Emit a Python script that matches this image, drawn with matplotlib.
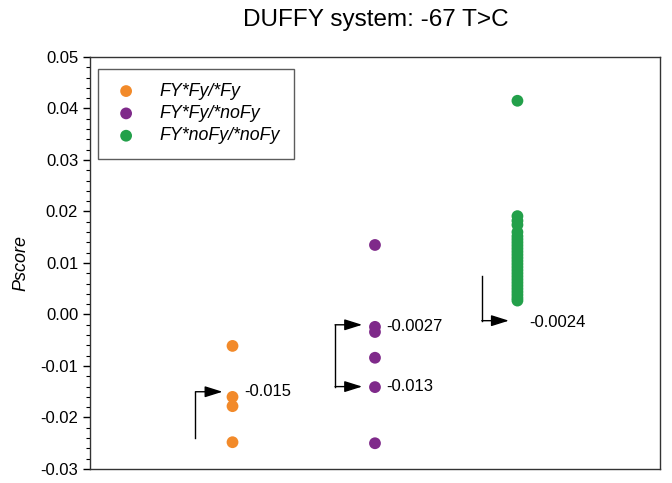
import matplotlib
matplotlib.use("Agg")
import matplotlib.pyplot as plt
from matplotlib.ticker import MultipleLocator

plt.rcParams['font.family'] = ['Liberation Sans', 'DejaVu Sans']

groups = ["FY*Fy/*Fy", "FY*Fy/*noFy", "FY*noFy/*noFy"]
colors = ["#f28a2a", "#7f2a8a", "#23a04a"]
x_pos = [1, 2, 3]
orange_vals = [-0.0061, -0.0160, -0.0178, -0.0248]
purple_vals = [0.0135, -0.0024, -0.0034, -0.0084, -0.0141, -0.0250]
green_vals = [0.0415, 0.0191, 0.0182, 0.0174, 0.0160, 0.0152, 0.0146, 0.0140, 0.0134,
              0.0128, 0.0122, 0.0116, 0.0110, 0.0104, 0.0098, 0.0092, 0.0086, 0.0080,
              0.0074, 0.0068, 0.0062, 0.0056, 0.0050, 0.0044, 0.0038, 0.0032, 0.0027]
series = [orange_vals, purple_vals, green_vals]
ann_labels = ["-0.015", "-0.0027", "-0.013", "-0.0024"]
ann_values = [-0.0150, -0.0020, -0.0140, -0.0012]

fig = plt.figure(figsize=(6.72, 4.83), dpi=100)
ax = fig.add_axes([0.134, 0.029, 0.848, 0.853])

for xp, vals, c, g in zip(x_pos, series, colors, groups):
    ax.scatter([xp] * len(vals), vals, s=72, color=c, edgecolors="none", label=g, zorder=3)

ax.set_xlim(0, 4)
ax.set_ylim(-0.03, 0.05)
ax.yaxis.set_minor_locator(MultipleLocator(0.002))
ax.set_yticks([-0.03, -0.02, -0.01, 0.0, 0.01, 0.02, 0.03, 0.04, 0.05])
ax.set_yticklabels(["-0.03", "-0.02", "-0.01", "0.00", "0.01", "0.02", "0.03", "0.04", "0.05"])
ax.set_xticks([])
ax.tick_params(axis="y", which="major", length=5, width=1, labelsize=12, direction="out")
ax.tick_params(axis="y", which="minor", length=3, width=0.8, direction="out")
for s in ax.spines.values():
    s.set_color("#333333")
    s.set_linewidth(1)
ax.set_ylabel("Pscore", fontsize=13, style="italic", labelpad=8)
fig.text(0.559, 0.958, "DUFFY system: -67 T>C", ha="center", va="center", fontsize=17.5)

arrow_kw = dict(arrowstyle="-|>,head_length=0.54,head_width=0.17", color="black", lw=1,
                mutation_scale=20, shrinkA=0, shrinkB=0)
# orange: vertical up then arrow right
v = ann_values[0]
ax.plot([0.74, 0.74], [-0.0240, v], color="black", lw=1)
ax.annotate("", xy=(0.93, v), xytext=(0.74, v), arrowprops=arrow_kw)
ax.text(1.08, v, ann_labels[0], fontsize=12, va="center", ha="left")
# purple bracket
v1, v2 = ann_values[1], ann_values[2]
ax.plot([1.72, 1.72], [v1, v2], color="black", lw=1)
ax.annotate("", xy=(1.91, v1), xytext=(1.72, v1), arrowprops=arrow_kw)
ax.annotate("", xy=(1.91, v2), xytext=(1.72, v2), arrowprops=arrow_kw)
ax.text(2.08, v1 - 0.0004, ann_labels[1], fontsize=12, va="center", ha="left")
ax.text(2.08, v2, ann_labels[2], fontsize=12, va="center", ha="left")
# green: vertical down then arrow right
v = ann_values[3]
ax.plot([2.75, 2.75], [0.0074, v], color="black", lw=1)
ax.annotate("", xy=(2.94, v), xytext=(2.75, v), arrowprops=arrow_kw)
ax.text(3.08, v - 0.0004, ann_labels[3], fontsize=12, va="center", ha="left")

leg = ax.legend(loc="upper left", bbox_to_anchor=(0.004, 0.985),
                prop={"style": "italic", "size": 12.8}, frameon=True, fancybox=False,
                edgecolor="#333333", borderpad=0.8, handletextpad=1.05,
                labelspacing=0.3, borderaxespad=0.3, handlelength=1.6)
leg.get_frame().set_linewidth(1)

fig.savefig("out.png", dpi=100)
